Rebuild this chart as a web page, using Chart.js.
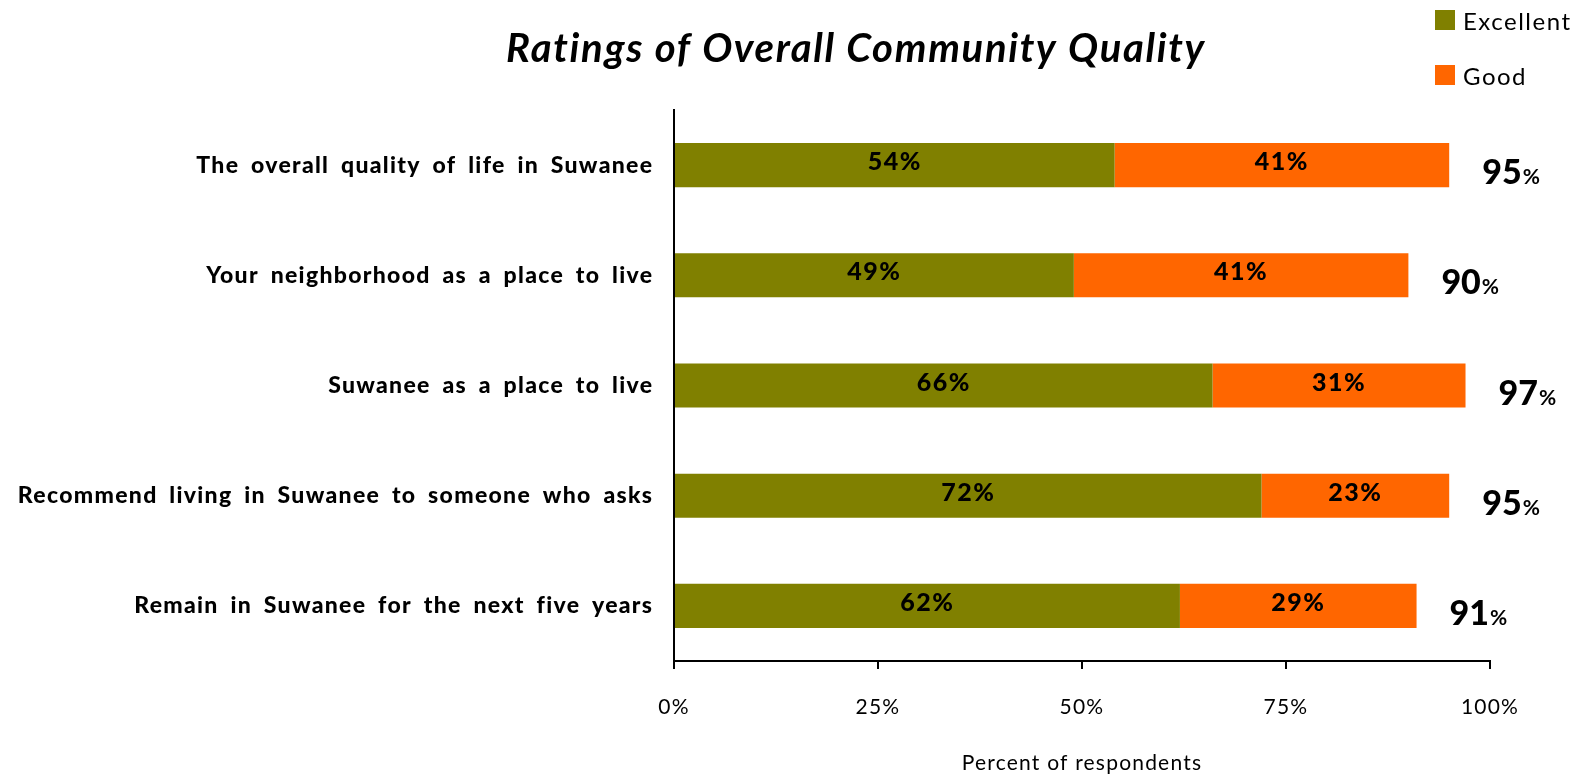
<!DOCTYPE html>
<html>
<head>
<meta charset="utf-8">
<script src="https://cdn.jsdelivr.net/npm/chart.js@4/dist/chart.umd.min.js"></script>
<style>
  html, body { margin: 0; padding: 0; background: #fff; }
  #wrap { width: 1578px; height: 774px; }
</style>
</head>
<body>
<div id="wrap"><canvas id="ratingChart" width="1578" height="774"></canvas></div>
<script>
// Chart data
const categories = [
  "The overall quality of life in Suwanee",
  "Your neighborhood as a place to live",
  "Suwanee as a place to live",
  "Recommend living in Suwanee to someone who asks",
  "Remain in Suwanee for the next five years"
];
const excellent = [54, 49, 66, 72, 62];
const good = [41, 41, 31, 23, 29];
const totals = [95, 90, 97, 95, 91];
const xTicks = [0, 25, 50, 75, 100];

const chartTitle = "Ratings of Overall Community Quality";
const axisTitle = "Percent of respondents";
const FONT = "Lato, 'Open Sans', sans-serif";

// draws title, legend, category labels, bar labels and totals
const overlayPlugin = {
  id: "overlay",
  beforeDraw(chart) {
    // the reference font is wider, spread the axis text a bit
    chart.ctx.letterSpacing = "1.2px";
  },
  afterDraw(chart) {
    const ctx = chart.ctx;
    const sets = chart.data.datasets;
    const xs = chart.scales.x;
    const ys = chart.scales.y;
    ctx.save();
    ctx.fillStyle = "#000";

    // title
    ctx.letterSpacing = "1.7px";
    ctx.font = "italic bold 40px " + FONT;
    ctx.textAlign = "center";
    ctx.textBaseline = "alphabetic";
    ctx.fillText(chartTitle, 856, 62);

    // legend
    ctx.letterSpacing = "1.5px";
    ctx.textAlign = "left";
    ctx.font = "24px " + FONT;
    sets.forEach((ds, i) => {
      const y = 10 + i * 55;
      ctx.fillStyle = ds.backgroundColor;
      ctx.fillRect(1435, y, 20, 20);
      ctx.fillStyle = "#000";
      ctx.fillText(ds.label, 1463, y + 20);
    });

    // category labels
    const ls = 1.3;
    ctx.letterSpacing = ls + "px";
    ctx.wordSpacing = "5px";
    ctx.textAlign = "right";
    ctx.textBaseline = "middle";
    ctx.font = "900 23px " + FONT;
    chart.data.labels.forEach((lab, i) => {
      ctx.fillText(lab, chart.chartArea.left - 22 + ls, ys.getPixelForValue(i));
    });
    ctx.wordSpacing = "0px";

    // labels inside bars
    ctx.letterSpacing = "1.5px";
    ctx.textAlign = "center";
    ctx.textBaseline = "alphabetic";
    ctx.font = "900 25px " + FONT;
    sets.forEach((ds, d) => {
      chart.getDatasetMeta(d).data.forEach((bar, i) => {
        const cx = (bar.x + bar.base) / 2;
        ctx.fillText(ds.data[i] + "%", cx, bar.y + 5);
      });
    });

    // totals to the right of each bar
    const lastMeta = chart.getDatasetMeta(sets.length - 1);
    ctx.letterSpacing = "0px";
    ctx.textAlign = "left";
    totals.forEach((t, i) => {
      const bar = lastMeta.data[i];
      const x0 = xs.getPixelForValue(excellent[i] + good[i]) + 33;
      const y0 = bar.y + 19;
      ctx.font = "900 34px " + FONT;
      const s = String(t);
      ctx.fillText(s, x0, y0);
      const w = ctx.measureText(s).width;
      ctx.font = "bold 21px " + FONT;
      ctx.fillText("%", x0 + w + 1, y0);
    });
    ctx.restore();
  }
};

new Chart(document.getElementById("ratingChart"), {
  type: "bar",
  data: {
    labels: categories,
    datasets: [
      { label: "Excellent", data: excellent, backgroundColor: "#808000" },
      { label: "Good", data: good, backgroundColor: "#FF6600" }
    ]
  },
  options: {
    indexAxis: "y",
    responsive: false,
    animation: false,
    devicePixelRatio: 1,
    layout: { padding: { top: 110, right: 88, left: 0, bottom: 0 } },
    datasets: { bar: { barPercentage: 0.4, categoryPercentage: 1 } },
    plugins: {
      legend: { display: false },
      title: { display: false },
      tooltip: { enabled: false }
    },
    scales: {
      x: {
        stacked: true,
        min: 0,
        max: 100,
        afterBuildTicks(scale) {
          scale.ticks = xTicks.map(v => ({ value: v }));
        },
        afterFit(scale) { scale.height = 113; },
        border: { color: "#000", width: 2 },
        grid: { drawOnChartArea: false, drawTicks: true, tickLength: 8, color: "#000", lineWidth: 2 },
        ticks: {
          padding: 26,
          color: "#000",
          font: { family: FONT, size: 21 },
          callback: v => v + "%"
        },
        title: {
          display: true,
          text: axisTitle,
          color: "#000",
          font: { family: FONT, size: 21 },
          padding: { top: 20, bottom: -2 }
        }
      },
      y: {
        stacked: true,
        afterFit(scale) { scale.width = 674; },
        border: { color: "#000", width: 2 },
        grid: { drawOnChartArea: false, drawTicks: false },
        ticks: { display: false }
      }
    }
  },
  plugins: [overlayPlugin]
});
</script>
</body>
</html>
